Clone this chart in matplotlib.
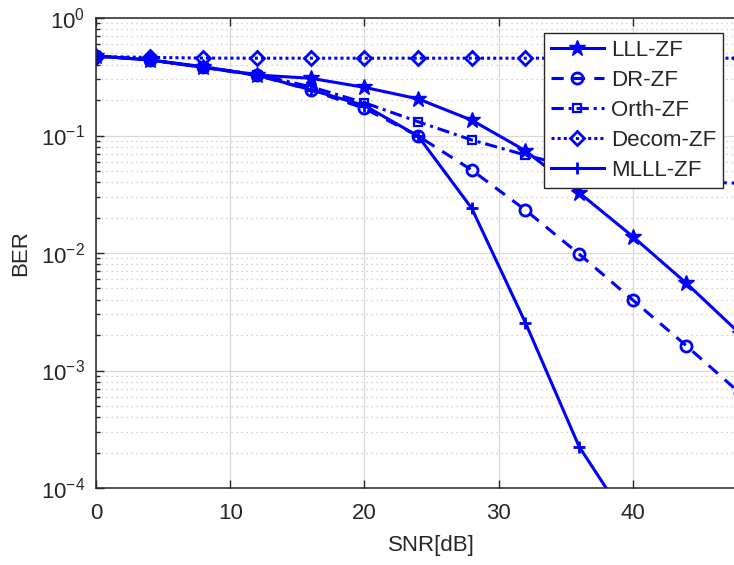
import matplotlib
matplotlib.use("Agg")
import matplotlib.pyplot as plt
from matplotlib.ticker import LogLocator, NullFormatter, FixedLocator

plt.rcParams["font.family"] = ["Liberation Sans", "DejaVu Sans"]
plt.rcParams["mathtext.fontset"] = "custom"
plt.rcParams["mathtext.rm"] = "Liberation Sans"
plt.rcParams["mathtext.it"] = "Liberation Sans"

snr_db = [0, 4, 8, 12, 16, 20, 24, 28, 32, 36, 40, 44, 48]

ber_lll = [0.475, 0.44, 0.385, 0.327, 0.307, 0.257, 0.205, 0.135, 0.0742,
           0.0326, 0.0138, 0.00552, 0.00205]
ber_dr = [0.475, 0.44, 0.38, 0.325, 0.244, 0.170, 0.099, 0.0508, 0.0232,
          0.0098, 0.00398, 0.00162, 0.00064]
ber_orth = [0.475, 0.44, 0.38, 0.33, 0.26, 0.19, 0.131, 0.0916, 0.0682,
            0.052, 0.044, 0.0405, 0.0392]
ber_decom = [0.47, 0.462, 0.456, 0.455, 0.455, 0.455, 0.455, 0.455, 0.455,
             0.455, 0.455, 0.455, 0.455]
ber_mlll = [0.475, 0.44, 0.38, 0.327, 0.245, 0.18, 0.099, 0.024, 0.00255,
            0.000225, 0.000045]

series_labels = ["LLL-ZF", "DR-ZF", "Orth-ZF", "Decom-ZF", "MLLL-ZF"]
x_ticks = [0, 10, 20, 30, 40]

fig = plt.figure(figsize=(7.34, 5.65), dpi=100)
# axes runs past the right border of the canvas (x up to 50)
ax = fig.add_axes([96 / 734, 77 / 565, 671 / 734, 470 / 565])

blue = (0, 0, 1)
lw = 2.2
ax.plot(snr_db, ber_lll, color=blue, lw=lw, ls="-", marker="*", ms=12,
        label=series_labels[0])
ax.plot(snr_db, ber_dr, color=blue, lw=lw, ls=(0, (4, 3)), marker="o", ms=8,
        mfc="none", mew=2, label=series_labels[1])
ax.plot(snr_db, ber_orth, color=blue, lw=lw, ls=(0, (4, 1.6, 1, 1.6)), marker="s",
        ms=6, mfc="none", mew=1.6, label=series_labels[2])
ax.plot(snr_db, ber_decom, color=blue, lw=lw, ls=(0, (1, 1)), marker="D",
        ms=7, mfc="none", mew=2, label=series_labels[3])
ax.plot(snr_db[:len(ber_mlll)], ber_mlll, color=blue, lw=lw, ls="-",
        marker="+", ms=9, mew=2, label=series_labels[4])

ax.set_yscale("log")
ax.set_xlim(0, 50)
ax.set_ylim(1e-4, 1)
ax.xaxis.set_major_locator(FixedLocator(x_ticks))
ax.yaxis.set_major_locator(LogLocator(base=10, numticks=10))
ax.yaxis.set_minor_locator(LogLocator(base=10, subs=range(2, 10), numticks=20))
ax.yaxis.set_minor_formatter(NullFormatter())

txt = "#262626"
ax.grid(True, which="major", color="#d8d8d8", lw=0.9, ls="-")
ax.grid(True, which="minor", axis="y", color="#c4c4c4", lw=0.9, ls=(0, (1, 3)))
ax.set_axisbelow(True)

ax.tick_params(which="both", direction="in", top=True, right=True,
               colors=txt, labelsize=16, width=1)
ax.tick_params(which="major", length=6)
ax.tick_params(axis="x", which="major", pad=11)
ax.tick_params(axis="y", which="major", pad=8)
ax.tick_params(which="minor", length=3)
for sp in ax.spines.values():
    sp.set_color(txt)
    sp.set_linewidth(1.1)

ax.set_xlabel("SNR[dB]", fontsize=16, color=txt, labelpad=8)
ax.set_ylabel("BER", fontsize=16, color=txt, labelpad=7)

leg = ax.legend(loc="upper right", bbox_to_anchor=(723 / 734, 1 - 33 / 565),
                bbox_transform=fig.transFigure, fontsize=16, frameon=True,
                fancybox=False, edgecolor=txt, framealpha=1,
                handlelength=2.4, handletextpad=0.3, labelspacing=0.4,
                borderpad=0.32, borderaxespad=0)
leg.get_frame().set_linewidth(1.0)
for t in leg.get_texts():
    t.set_color(txt)

fig.savefig("out.png", dpi=100)
